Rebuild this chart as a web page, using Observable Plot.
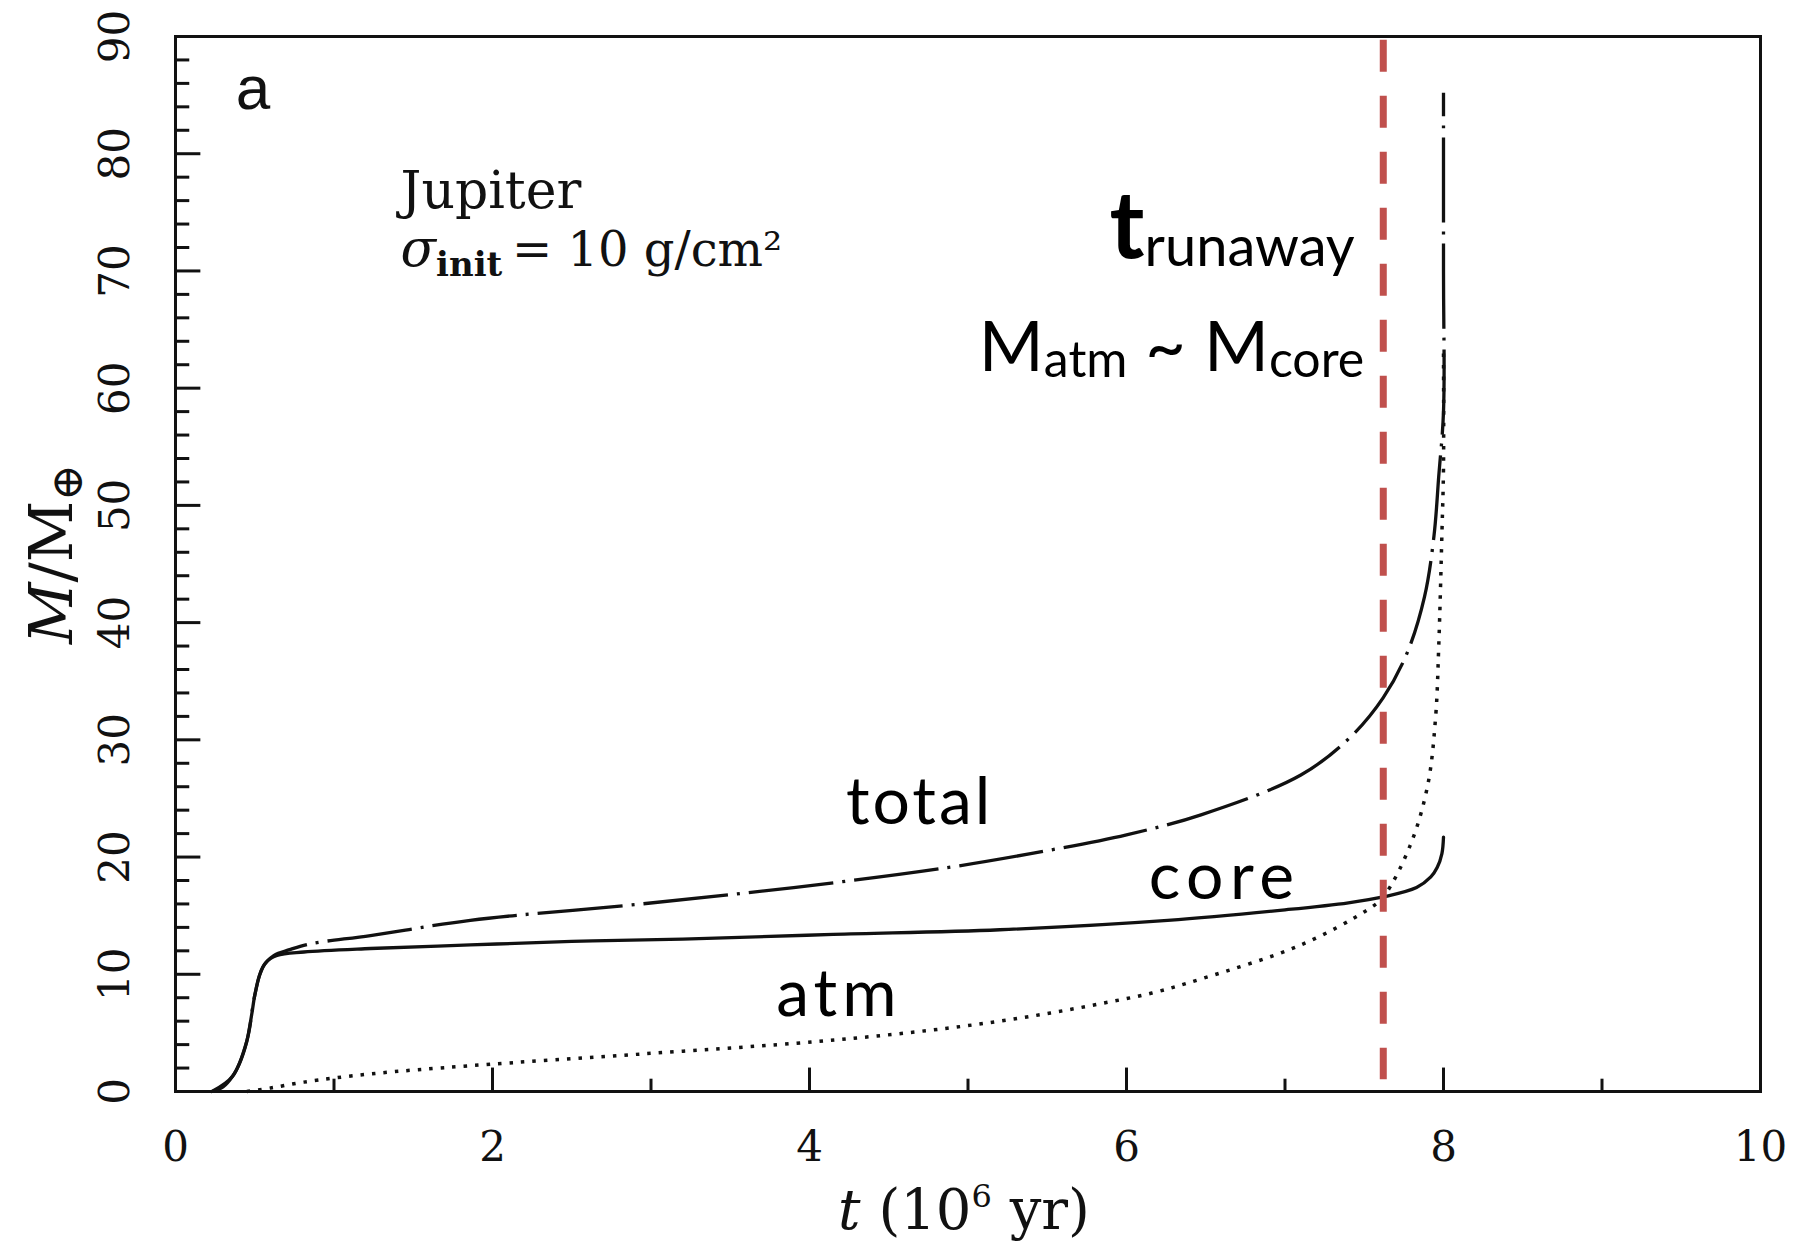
<!DOCTYPE html>
<html>
<head>
<meta charset="utf-8">
<script src="https://cdn.jsdelivr.net/npm/d3@7"></script>
<script src="https://cdn.jsdelivr.net/npm/@observablehq/plot@0.6"></script>
<style>
  html, body { margin: 0; padding: 0; background: #fff; }
  svg { display: block; }
</style>
</head>
<body>
<div id="chart"></div>
<script>
// Growth of Jupiter: core mass, envelope (atm) mass and total mass vs time (10^6 yr)
const coreT = [0.23, 0.30, 0.36, 0.41, 0.45, 0.48, 0.50, 0.53, 0.57, 0.64, 0.81, 1.23, 1.86, 2.5, 3.2, 4.15, 5.2, 6.26, 7.0, 7.4, 7.62, 7.83, 7.92, 7.96, 7.99, 8.0];
const coreM = [0, 0.4, 1.3, 2.6, 4.3, 6.5, 8.2, 9.9, 11.0, 11.6, 11.9, 12.2, 12.5, 12.8, 13.0, 13.4, 13.8, 14.6, 15.5, 16.1, 16.6, 17.4, 18.3, 19.1, 20.3, 21.7];

const atmT = [0.45, 0.6, 0.81, 1.23, 1.86, 2.94, 3.9, 4.4, 4.87, 5.2, 5.52, 5.84, 6.16, 6.47, 7.1, 7.52, 7.62, 7.79, 7.9, 7.95, 7.97, 7.99, 8.0, 8.0];
const atmM = [0, 0.3, 0.8, 1.5, 2.2, 3.2, 4.1, 4.7, 5.4, 6.0, 6.7, 7.5, 8.4, 9.6, 12.5, 15.5, 16.6, 21.0, 26.1, 31.9, 38.0, 47.6, 53.2, 63];

const totalT = [0.23, 0.36, 0.45, 0.50, 0.55, 0.62, 0.72, 0.85, 1.23, 1.86, 2.94, 3.9, 4.87, 5.52, 6.0, 6.47, 7.1, 7.41, 7.62, 7.77, 7.88, 7.94, 7.97, 8.0, 8.0, 8.0];
const totalM = [0, 1.3, 4.3, 8.2, 10.6, 11.6, 12.1, 12.6, 13.3, 14.6, 16.0, 17.4, 19.1, 20.6, 21.9, 23.6, 27.0, 30.2, 33.6, 37.4, 42.2, 47.4, 52.5, 58, 70, 85.2];

// Onset of runaway gas accretion (where M_atm ~ M_core)
const tRunaway = 7.62;

// Axis ticks
const xTicksMajor = [0, 2, 4, 6, 8, 10];
const xTicksMinor = [1, 3, 5, 7, 9];
const yTicksMajor = [0, 10, 20, 30, 40, 50, 60, 70, 80, 90];
const yTicksMinor = [2, 4, 6, 8, 12, 14, 16, 18, 22, 24, 26, 28, 32, 34, 36, 38, 42, 44, 46, 48,
                     52, 54, 56, 58, 62, 64, 66, 68, 72, 74, 76, 78, 82, 84, 86, 88];

const toRows = (T, M) => T.map((t, i) => ({t, m: M[i]}));
const core = toRows(coreT, coreM);
const atm = toRows(atmT, atmM);
const total = toRows(totalT, totalM);

const schoolbook = "'DejaVu Serif', serif";
const humanist = "Lato, 'Noto Sans', sans-serif";
const ink = "#111";

const plot = Plot.plot({
  width: 1800,
  height: 1247,
  marginLeft: 175,
  marginRight: 40,
  marginTop: 36,
  marginBottom: 156,
  x: {domain: [0, 10], axis: null},
  y: {domain: [0, 90], axis: null},
  style: {fontFamily: schoolbook, fontSize: "42px", background: "#fff", color: "#000", overflow: "visible"},
  marks: [
    // inward ticks
    Plot.ruleX(xTicksMajor, {x: d => d, y1: 0, y2: 2.0, stroke: ink, strokeWidth: 3}),
    Plot.ruleX(xTicksMinor, {x: d => d, y1: 0, y2: 1.05, stroke: ink, strokeWidth: 3}),
    Plot.ruleY(yTicksMajor, {y: d => d, x1: 0, x2: 0.16, stroke: ink, strokeWidth: 3}),
    Plot.ruleY(yTicksMinor, {y: d => d, x1: 0, x2: 0.09, stroke: ink, strokeWidth: 3}),

    // tick labels
    Plot.text(xTicksMajor, {x: d => d, y: 0, text: d => String(d), dy: 56, lineAnchor: "middle", fontSize: 42, fill: ink}),
    Plot.text(yTicksMajor, {x: 0, y: d => d, text: d => String(d), rotate: -90, dx: -60, textAnchor: "middle", lineAnchor: "middle", fontSize: 42, fill: ink}),

    // curves
    Plot.line(atm, {x: "t", y: "m", curve: "catmull-rom", stroke: ink, strokeWidth: 3.5, strokeDasharray: "3.5,8", strokeLinecap: "butt"}),
    Plot.line(total, {x: "t", y: "m", curve: "catmull-rom", stroke: ink, strokeWidth: 3.3, strokeDasharray: "85,9,3,9", strokeLinecap: "butt"}),
    Plot.line(core, {x: "t", y: "m", curve: "catmull-rom", stroke: ink, strokeWidth: 3.3}),

    // runaway marker
    Plot.ruleX([tRunaway], {x: d => d, y1: 89.68, y2: 1.0, stroke: "#c0504d", strokeWidth: 7, strokeDasharray: "32,24"}),

    Plot.frame({stroke: ink, strokeWidth: 3}),

    // panel letter and run description
    Plot.text(["a"], {x: 0.38, y: 83.8, textAnchor: "start", lineAnchor: "bottom", fontFamily: "'Liberation Sans', Arial, sans-serif", fontSize: 62, fill: ink}),
    Plot.text(["Jupiter"], {x: 1.42, y: 75.4, textAnchor: "start", lineAnchor: "bottom", fontFamily: schoolbook, fontSize: 52, fill: ink}),
    Plot.text(["σinit = 10 g/cm²"], {x: 1.42, y: 70.4, textAnchor: "start", lineAnchor: "bottom", fontFamily: schoolbook, fontSize: 52, fill: ink}),

    // annotations
    Plot.text(["trunaway"], {x: 7.44, y: 71.1, textAnchor: "end", lineAnchor: "bottom", fontFamily: humanist, fontSize: 56, fill: "#000"}),
    Plot.text(["Matm ~ Mcore"], {x: 7.5, y: 61.5, textAnchor: "end", lineAnchor: "bottom", fontFamily: humanist, fontSize: 70, fill: "#000"}),
    Plot.text(["total"], {x: 4.23, y: 22.8, textAnchor: "start", lineAnchor: "bottom", fontFamily: humanist, fontSize: 66, fill: "#000"}),
    Plot.text(["core"], {x: 6.14, y: 16.4, textAnchor: "start", lineAnchor: "bottom", fontFamily: humanist, fontSize: 66, fill: "#000"}),
    Plot.text(["atm"], {x: 3.79, y: 6.4, textAnchor: "start", lineAnchor: "bottom", fontFamily: humanist, fontSize: 66, fill: "#000"}),

    // axis titles
    Plot.text(["M/M⊕"], {frameAnchor: "left", rotate: -90, dx: -123, dy: -10, textAnchor: "middle", lineAnchor: "middle", fontFamily: schoolbook, fontSize: 60, fill: ink}),
    Plot.text(["t (106 yr)"], {frameAnchor: "bottom", dx: -4, dy: 137, textAnchor: "middle", lineAnchor: "bottom", fontFamily: schoolbook, fontSize: 56, fill: ink})
  ]
});

document.getElementById("chart").appendChild(plot);

const textsWith = content => d3.select(plot).selectAll("text")
  .filter(function () { return this.textContent === content; });

// Rebuild a few labels with italic, sub- and superscript pieces
function richText(content, parts) {
  textsWith(content).each(function () {
    const el = d3.select(this).style("white-space", "pre");
    el.text(null);
    for (const p of parts) {
      const ts = el.append("tspan").text(p.text);
      if (p.style) ts.attr("font-style", p.style);
      if (p.weight) ts.attr("font-weight", p.weight);
      if (p.size) ts.attr("font-size", p.size);
      if (p.dy) ts.attr("dy", p.dy);
    }
  });
}

// The curve labels are set a little wider than Lato's default spacing
textsWith("total").style("letter-spacing", "3px");
textsWith("core").style("letter-spacing", "6.5px");
textsWith("atm").style("letter-spacing", "5px");

richText("trunaway", [
  {text: "t", size: 94, weight: "bold"},
  {text: "runaway", size: 56, dy: 8}
]);
richText("Matm ~ Mcore", [
  {text: "M"},
  {text: "atm", size: 50, dy: 6},
  {text: " ~ ", dy: -6},
  {text: "M"},
  {text: "core", size: 50, dy: 6}
]);
richText("σinit = 10 g/cm²", [
  {text: "σ", style: "italic"},
  {text: "init", weight: "bold", size: 34, dy: 10},
  {text: "\u2009= 10 g/cm²", size: 48, dy: -10}
]);
richText("M/M⊕", [
  {text: "M", style: "italic"},
  {text: "/M"},
  {text: "⊕", size: 44, dy: 10}
]);
richText("t (106 yr)", [
  {text: "t", style: "italic"},
  {text: " (10"},
  {text: "6", size: 32, dy: -22},
  {text: " yr)", dy: 22}
]);
</script>
</body>
</html>
